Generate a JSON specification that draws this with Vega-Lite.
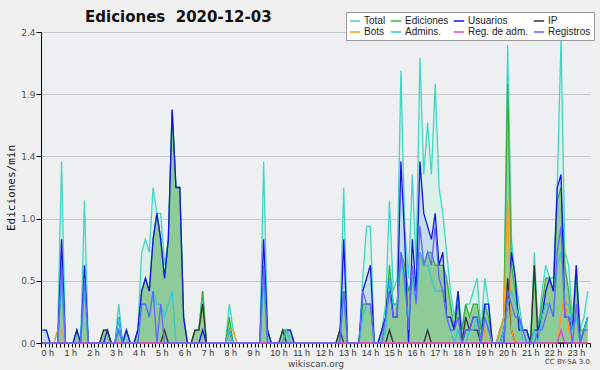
{
  "$schema": "https://vega.github.io/schema/vega-lite/v6.json",
  "width": 549,
  "height": 311,
  "autosize": {"type": "none"},
  "padding": {"left": 41, "top": 32, "right": 10, "bottom": 27},
  "background": "#f0f0f0",
  "title": {"text": "Ediciones \u00a02020-12-03", "anchor": "start", "frame": "group", "dx": 44, "dy": 22, "offset": 9, "font": "DejaVu Sans", "fontSize": 15, "fontWeight": "bold", "color": "#111111"},
  "datasets": {
    "d": [
      {"m":4,"T":0.1,"E":0,"U":0.1,"P":0,"B":0,"A":0,"RA":0,"R":0},
      {"m":14,"T":0.1,"E":0,"U":0.1,"P":0,"B":0,"A":0,"RA":0,"R":0},
      {"m":24,"T":0,"E":0,"U":0,"P":0,"B":0,"A":0,"RA":0,"R":0},
      {"m":34,"T":0,"E":0,"U":0,"P":0,"B":0,"A":0,"RA":0,"R":0},
      {"m":44,"T":0.1,"E":0,"U":0,"P":0,"B":0.1,"A":0,"RA":0,"R":0},
      {"m":54,"T":1.4,"E":0.5,"U":0.8,"P":0,"B":0.1,"A":0.5,"RA":0,"R":0.6},
      {"m":64,"T":0,"E":0,"U":0,"P":0,"B":0,"A":0,"RA":0,"R":0},
      {"m":74,"T":0,"E":0,"U":0,"P":0,"B":0,"A":0,"RA":0,"R":0},
      {"m":84,"T":0,"E":0,"U":0,"P":0,"B":0,"A":0,"RA":0,"R":0},
      {"m":94,"T":0.1,"E":0.1,"U":0.1,"P":0,"B":0,"A":0,"RA":0,"R":0},
      {"m":104,"T":0,"E":0,"U":0,"P":0,"B":0,"A":0,"RA":0,"R":0},
      {"m":114,"T":1.1,"E":0.5,"U":0.6,"P":0,"B":0,"A":0.4,"RA":0,"R":0.5},
      {"m":124,"T":0,"E":0,"U":0,"P":0,"B":0,"A":0,"RA":0,"R":0},
      {"m":134,"T":0,"E":0,"U":0,"P":0,"B":0,"A":0,"RA":0,"R":0},
      {"m":144,"T":0,"E":0,"U":0,"P":0,"B":0,"A":0,"RA":0,"R":0},
      {"m":154,"T":0,"E":0,"U":0,"P":0,"B":0,"A":0,"RA":0,"R":0},
      {"m":164,"T":0.1,"E":0.1,"U":0,"P":0.1,"B":0,"A":0,"RA":0,"R":0},
      {"m":174,"T":0.1,"E":0.1,"U":0.1,"P":0.1,"B":0,"A":0,"RA":0,"R":0},
      {"m":184,"T":0,"E":0,"U":0,"P":0,"B":0,"A":0,"RA":0,"R":0},
      {"m":194,"T":0,"E":0,"U":0,"P":0,"B":0,"A":0,"RA":0,"R":0},
      {"m":204,"T":0.3,"E":0.1,"U":0.2,"P":0,"B":0,"A":0.2,"RA":0,"R":0.1},
      {"m":214,"T":0,"E":0,"U":0,"P":0,"B":0,"A":0,"RA":0,"R":0},
      {"m":224,"T":0.1,"E":0.1,"U":0.1,"P":0,"B":0,"A":0,"RA":0,"R":0},
      {"m":234,"T":0,"E":0,"U":0,"P":0,"B":0,"A":0,"RA":0,"R":0},
      {"m":244,"T":0,"E":0,"U":0,"P":0,"B":0,"A":0,"RA":0,"R":0},
      {"m":254,"T":0.1,"E":0.1,"U":0.1,"P":0,"B":0,"A":0,"RA":0,"R":0},
      {"m":264,"T":0.7,"E":0.4,"U":0.4,"P":0,"B":0,"A":0.3,"RA":0,"R":0.3},
      {"m":274,"T":0.8,"E":0.5,"U":0.5,"P":0,"B":0,"A":0.3,"RA":0,"R":0.3},
      {"m":284,"T":0.7,"E":0.4,"U":0.4,"P":0,"B":0,"A":0.2,"RA":0,"R":0.2},
      {"m":294,"T":1.2,"E":0.8,"U":0.8,"P":0,"B":0,"A":0.4,"RA":0,"R":0.4},
      {"m":304,"T":1.0,"E":1.0,"U":1.0,"P":0,"B":0,"A":0.3,"RA":0,"R":0},
      {"m":314,"T":1.0,"E":0.8,"U":0.8,"P":0,"B":0,"A":0.3,"RA":0,"R":0.3},
      {"m":324,"T":0.6,"E":0.5,"U":0.5,"P":0.1,"B":0,"A":0.2,"RA":0,"R":0},
      {"m":334,"T":0.8,"E":0.8,"U":0.8,"P":0,"B":0,"A":0.3,"RA":0,"R":0},
      {"m":344,"T":1.8,"E":1.8,"U":1.8,"P":0,"B":0,"A":0.4,"RA":0,"R":0},
      {"m":354,"T":1.2,"E":1.2,"U":1.2,"P":0,"B":0,"A":0,"RA":0,"R":0},
      {"m":364,"T":1.2,"E":1.2,"U":1.2,"P":0,"B":0,"A":0,"RA":0,"R":0},
      {"m":374,"T":0.2,"E":0.2,"U":0.2,"P":0,"B":0,"A":0,"RA":0,"R":0},
      {"m":384,"T":0,"E":0,"U":0,"P":0,"B":0,"A":0,"RA":0,"R":0},
      {"m":394,"T":0,"E":0,"U":0,"P":0,"B":0,"A":0,"RA":0,"R":0},
      {"m":404,"T":0.1,"E":0.1,"U":0,"P":0.1,"B":0,"A":0,"RA":0,"R":0},
      {"m":414,"T":0.1,"E":0.1,"U":0,"P":0.1,"B":0,"A":0,"RA":0,"R":0},
      {"m":424,"T":0.4,"E":0.4,"U":0.1,"P":0.3,"B":0,"A":0,"RA":0,"R":0},
      {"m":434,"T":0,"E":0,"U":0,"P":0,"B":0,"A":0,"RA":0,"R":0},
      {"m":444,"T":0,"E":0,"U":0,"P":0,"B":0,"A":0,"RA":0,"R":0},
      {"m":454,"T":0,"E":0,"U":0,"P":0,"B":0,"A":0,"RA":0,"R":0},
      {"m":464,"T":0,"E":0,"U":0,"P":0,"B":0,"A":0,"RA":0,"R":0},
      {"m":474,"T":0,"E":0,"U":0,"P":0,"B":0,"A":0,"RA":0,"R":0},
      {"m":484,"T":0,"E":0,"U":0,"P":0,"B":0,"A":0,"RA":0,"R":0},
      {"m":494,"T":0.3,"E":0.2,"U":0.1,"P":0,"B":0.1,"A":0.1,"RA":0,"R":0},
      {"m":504,"T":0.1,"E":0,"U":0,"P":0,"B":0.1,"A":0,"RA":0,"R":0},
      {"m":514,"T":0,"E":0,"U":0,"P":0,"B":0,"A":0,"RA":0,"R":0},
      {"m":524,"T":0,"E":0,"U":0,"P":0,"B":0,"A":0,"RA":0,"R":0},
      {"m":534,"T":0,"E":0,"U":0,"P":0,"B":0,"A":0,"RA":0,"R":0},
      {"m":544,"T":0,"E":0,"U":0,"P":0,"B":0,"A":0,"RA":0,"R":0},
      {"m":554,"T":0,"E":0,"U":0,"P":0,"B":0,"A":0,"RA":0,"R":0},
      {"m":564,"T":0,"E":0,"U":0,"P":0,"B":0,"A":0,"RA":0,"R":0},
      {"m":574,"T":0,"E":0,"U":0,"P":0,"B":0,"A":0,"RA":0,"R":0},
      {"m":584,"T":1.4,"E":0.5,"U":0.8,"P":0,"B":0,"A":0.5,"RA":0,"R":0.6},
      {"m":594,"T":0.1,"E":0.1,"U":0.1,"P":0,"B":0,"A":0,"RA":0,"R":0},
      {"m":604,"T":0,"E":0,"U":0,"P":0,"B":0,"A":0,"RA":0,"R":0},
      {"m":614,"T":0,"E":0,"U":0,"P":0,"B":0,"A":0,"RA":0,"R":0},
      {"m":624,"T":0,"E":0,"U":0,"P":0,"B":0,"A":0,"RA":0,"R":0},
      {"m":634,"T":0.1,"E":0.1,"U":0,"P":0.1,"B":0,"A":0,"RA":0,"R":0},
      {"m":644,"T":0.1,"E":0.1,"U":0.1,"P":0,"B":0,"A":0.1,"RA":0,"R":0},
      {"m":654,"T":0.1,"E":0.1,"U":0.1,"P":0,"B":0,"A":0,"RA":0,"R":0},
      {"m":664,"T":0,"E":0,"U":0,"P":0,"B":0,"A":0,"RA":0,"R":0},
      {"m":674,"T":0,"E":0,"U":0,"P":0,"B":0,"A":0,"RA":0,"R":0},
      {"m":684,"T":0,"E":0,"U":0,"P":0,"B":0,"A":0,"RA":0,"R":0},
      {"m":694,"T":0,"E":0,"U":0,"P":0,"B":0,"A":0,"RA":0,"R":0},
      {"m":704,"T":0,"E":0,"U":0,"P":0,"B":0,"A":0,"RA":0,"R":0},
      {"m":714,"T":0,"E":0,"U":0,"P":0,"B":0,"A":0,"RA":0,"R":0},
      {"m":724,"T":0,"E":0,"U":0,"P":0,"B":0,"A":0,"RA":0,"R":0},
      {"m":734,"T":0,"E":0,"U":0,"P":0,"B":0,"A":0,"RA":0,"R":0},
      {"m":744,"T":0,"E":0,"U":0,"P":0,"B":0,"A":0,"RA":0,"R":0},
      {"m":754,"T":0,"E":0,"U":0,"P":0,"B":0,"A":0,"RA":0,"R":0},
      {"m":764,"T":0,"E":0,"U":0,"P":0,"B":0,"A":0,"RA":0,"R":0},
      {"m":774,"T":0,"E":0,"U":0,"P":0,"B":0,"A":0,"RA":0,"R":0},
      {"m":784,"T":0.1,"E":0.1,"U":0,"P":0.1,"B":0,"A":0,"RA":0,"R":0},
      {"m":794,"T":1.2,"E":0.4,"U":0.8,"P":0,"B":0,"A":0.4,"RA":0,"R":0.4},
      {"m":804,"T":0,"E":0,"U":0,"P":0,"B":0,"A":0,"RA":0,"R":0},
      {"m":814,"T":0,"E":0,"U":0,"P":0,"B":0,"A":0,"RA":0,"R":0},
      {"m":824,"T":0,"E":0,"U":0,"P":0,"B":0,"A":0,"RA":0,"R":0},
      {"m":834,"T":0,"E":0,"U":0,"P":0,"B":0,"A":0,"RA":0,"R":0},
      {"m":844,"T":0.5,"E":0.3,"U":0.4,"P":0,"B":0,"A":0.2,"RA":0,"R":0.4},
      {"m":854,"T":0.9,"E":0.3,"U":0.5,"P":0,"B":0,"A":0.3,"RA":0,"R":0.3},
      {"m":864,"T":0.9,"E":0.3,"U":0.6,"P":0,"B":0,"A":0.3,"RA":0,"R":0.3},
      {"m":874,"T":0,"E":0,"U":0,"P":0,"B":0,"A":0,"RA":0,"R":0},
      {"m":884,"T":0,"E":0,"U":0,"P":0,"B":0,"A":0,"RA":0,"R":0},
      {"m":894,"T":0.1,"E":0.1,"U":0.1,"P":0,"B":0,"A":0,"RA":0,"R":0},
      {"m":904,"T":0.3,"E":0.2,"U":0.2,"P":0,"B":0,"A":0.1,"RA":0,"R":0.2},
      {"m":914,"T":1.1,"E":0.6,"U":0.5,"P":0.1,"B":0,"A":0.5,"RA":0,"R":0.4},
      {"m":924,"T":0.4,"E":0.3,"U":0.2,"P":0,"B":0,"A":0.3,"RA":0,"R":0.2},
      {"m":934,"T":0.5,"E":0.3,"U":0.2,"P":0,"B":0,"A":0.3,"RA":0,"R":0.2},
      {"m":944,"T":2.1,"E":0.7,"U":1.4,"P":0,"B":0,"A":0.7,"RA":0,"R":0.7},
      {"m":954,"T":0.9,"E":0.6,"U":0.8,"P":0,"B":0,"A":0.4,"RA":0,"R":0.5},
      {"m":964,"T":0.5,"E":0.4,"U":0,"P":0,"B":0,"A":0.2,"RA":0,"R":0.1},
      {"m":974,"T":1.3,"E":0.5,"U":0.8,"P":0,"B":0,"A":0.5,"RA":0,"R":0.6},
      {"m":984,"T":0.6,"E":0.4,"U":0.4,"P":0,"B":0,"A":0.3,"RA":0,"R":0.3},
      {"m":994,"T":2.2,"E":0.7,"U":1.4,"P":0,"B":0,"A":0.7,"RA":0,"R":0.9},
      {"m":1004,"T":1.3,"E":0.6,"U":1.0,"P":0,"B":0,"A":0.6,"RA":0,"R":0.6},
      {"m":1014,"T":1.7,"E":0.7,"U":0.9,"P":0.1,"B":0,"A":0.6,"RA":0,"R":0.7},
      {"m":1024,"T":1.3,"E":0.7,"U":0.8,"P":0,"B":0,"A":0.5,"RA":0,"R":0.6},
      {"m":1034,"T":2.0,"E":0.6,"U":1.0,"P":0,"B":0,"A":0.4,"RA":0,"R":0.9},
      {"m":1044,"T":1.2,"E":0.6,"U":0.6,"P":0,"B":0,"A":0.4,"RA":0,"R":0.5},
      {"m":1054,"T":1.0,"E":0.6,"U":0.7,"P":0,"B":0,"A":0.4,"RA":0,"R":0.4},
      {"m":1064,"T":0.7,"E":0.5,"U":0.2,"P":0,"B":0,"A":0.2,"RA":0,"R":0.2},
      {"m":1074,"T":0.4,"E":0.3,"U":0.2,"P":0,"B":0,"A":0.1,"RA":0,"R":0.1},
      {"m":1084,"T":0.2,"E":0.1,"U":0.1,"P":0,"B":0,"A":0,"RA":0,"R":0.1},
      {"m":1094,"T":0.4,"E":0.3,"U":0.4,"P":0,"B":0,"A":0.1,"RA":0,"R":0.2},
      {"m":1104,"T":0.1,"E":0.1,"U":0,"P":0,"B":0,"A":0,"RA":0,"R":0},
      {"m":1114,"T":0.3,"E":0.3,"U":0.1,"P":0.2,"B":0,"A":0,"RA":0,"R":0.1},
      {"m":1124,"T":0.3,"E":0.2,"U":0.1,"P":0.1,"B":0,"A":0.1,"RA":0,"R":0.1},
      {"m":1134,"T":0.4,"E":0.3,"U":0.2,"P":0.1,"B":0,"A":0.1,"RA":0,"R":0.2},
      {"m":1144,"T":0.5,"E":0.3,"U":0.2,"P":0.1,"B":0,"A":0.2,"RA":0,"R":0.2},
      {"m":1154,"T":0.1,"E":0.1,"U":0,"P":0,"B":0,"A":0,"RA":0,"R":0},
      {"m":1164,"T":0.5,"E":0.3,"U":0.3,"P":0,"B":0.1,"A":0.2,"RA":0,"R":0.2},
      {"m":1174,"T":0.3,"E":0.2,"U":0.3,"P":0,"B":0,"A":0.1,"RA":0,"R":0.1},
      {"m":1184,"T":0,"E":0,"U":0,"P":0,"B":0,"A":0,"RA":0,"R":0},
      {"m":1194,"T":0,"E":0,"U":0,"P":0,"B":0,"A":0,"RA":0,"R":0},
      {"m":1204,"T":0.1,"E":0.1,"U":0,"P":0,"B":0.1,"A":0,"RA":0,"R":0},
      {"m":1214,"T":0.2,"E":0.2,"U":0.1,"P":0,"B":0.2,"A":0.1,"RA":0,"R":0},
      {"m":1224,"T":2.3,"E":2.0,"U":0.3,"P":0.5,"B":1.1,"A":0.3,"RA":0,"R":0.4},
      {"m":1234,"T":0.8,"E":0.6,"U":0.7,"P":0.1,"B":0.1,"A":0.4,"RA":0,"R":0.3},
      {"m":1244,"T":0.5,"E":0.4,"U":0.5,"P":0,"B":0,"A":0.3,"RA":0,"R":0.2},
      {"m":1254,"T":0.3,"E":0.2,"U":0.1,"P":0,"B":0,"A":0.2,"RA":0,"R":0.2},
      {"m":1264,"T":0.1,"E":0.1,"U":0.1,"P":0,"B":0,"A":0,"RA":0,"R":0.1},
      {"m":1274,"T":0.1,"E":0.1,"U":0.1,"P":0,"B":0,"A":0,"RA":0,"R":0},
      {"m":1284,"T":0,"E":0,"U":0,"P":0,"B":0,"A":0,"RA":0,"R":0},
      {"m":1294,"T":0.7,"E":0.6,"U":0.1,"P":0.6,"B":0,"A":0.1,"RA":0,"R":0},
      {"m":1304,"T":0.1,"E":0.1,"U":0.1,"P":0,"B":0,"A":0,"RA":0,"R":0.1},
      {"m":1314,"T":0.4,"E":0.3,"U":0.2,"P":0,"B":0,"A":0.2,"RA":0,"R":0.1},
      {"m":1324,"T":0.6,"E":0.5,"U":0.4,"P":0,"B":0,"A":0.3,"RA":0,"R":0.2},
      {"m":1334,"T":0.5,"E":0.5,"U":0.5,"P":0,"B":0,"A":0.3,"RA":0,"R":0.3},
      {"m":1344,"T":0.5,"E":0.4,"U":0.4,"P":0,"B":0,"A":0.2,"RA":0,"R":0.2},
      {"m":1354,"T":1.2,"E":1.1,"U":1.2,"P":0,"B":0,"A":0.6,"RA":0,"R":0.7},
      {"m":1364,"T":2.35,"E":1.2,"U":1.3,"P":0,"B":0.2,"A":0.7,"RA":0.1,"R":0.9},
      {"m":1374,"T":0.7,"E":0.6,"U":0.2,"P":0,"B":0.4,"A":0.3,"RA":0,"R":0.2},
      {"m":1384,"T":0.6,"E":0.4,"U":0.2,"P":0,"B":0.1,"A":0.3,"RA":0,"R":0.2},
      {"m":1394,"T":0.2,"E":0.1,"U":0.1,"P":0,"B":0,"A":0.1,"RA":0,"R":0},
      {"m":1404,"T":0.6,"E":0.5,"U":0.6,"P":0,"B":0,"A":0.2,"RA":0,"R":0.3},
      {"m":1414,"T":0.1,"E":0.1,"U":0,"P":0,"B":0,"A":0,"RA":0,"R":0},
      {"m":1424,"T":0.2,"E":0.1,"U":0.1,"P":0,"B":0,"A":0.1,"RA":0,"R":0.1},
      {"m":1434,"T":0.4,"E":0.2,"U":0.2,"P":0,"B":0,"A":0.2,"RA":0,"R":0.1}
    ],
    "note": [{"txt": "CC BY-SA 3.0", "m": 1440, "y": -0.145}]
  },
  "data": {"name": "d"},
  "encoding": {
    "x": {
      "field": "m", "type": "quantitative",
      "scale": {"domain": [0, 1440], "nice": false, "zero": false},
      "axis": {
        "tickCount": 144,
        "labelExpr": "datum.value % 60 == 0 && datum.value < 1440 ? (datum.value / 60) + ' h' : ''",
        "labelAlign": "left", "labelOverlap": false, "labelFlush": false,
        "labelFont": "Liberation Sans", "labelFontSize": 9, "labelColor": "#333333", "labelPadding": 1,
        "tickSize": 4, "tickColor": "#000000", "domainColor": "#000000", "grid": false,
        "title": "wikiscan.org", "titleFont": "DejaVu Sans", "titleFontSize": 9, "titleFontWeight": "normal",
        "titleColor": "#444444", "titlePadding": 2
      }
    }
  },
  "layer": [
    {
      "mark": {"type": "area", "color": "#daf0e9", "interpolate": "linear"},
      "encoding": {
        "y": {
          "field": "T", "type": "quantitative",
          "scale": {"domain": [0, 2.4], "nice": false, "zero": true},
          "axis": {
            "values": [0, 0.12, 0.24, 0.36, 0.48, 0.6, 0.72, 0.84, 0.96, 1.08, 1.2, 1.32, 1.44, 1.56, 1.68, 1.8, 1.92, 2.04, 2.16, 2.28, 2.4],
            "labelExpr": "round(datum.value / 0.12) % 4 == 0 ? format(datum.value, '.1f') : ''",
            "labelFlush": false, "labelOverlap": false,
            "grid": true, "gridColor": "#c8c8c8",
            "gridOpacity": {"condition": {"test": "round(datum.value / 0.12) % 4 == 0 && datum.value > 0", "value": 1}, "value": 0},
            "tickSize": {"condition": {"test": "round(datum.value / 0.12) % 4 == 0", "value": 5}, "value": 3},
            "tickColor": "#000000", "domainColor": "#000000",
            "labelFont": "DejaVu Sans", "labelFontSize": 9, "labelColor": "#555555", "labelPadding": 1,
            "title": "Ediciones/min", "titleFont": "DejaVu Sans Mono", "titleFontSize": 11, "titleFontWeight": "normal",
            "titleColor": "#111111", "titlePadding": 4
          }
        }
      }
    },
    {
      "mark": {"type": "area", "color": "#a0c0f0", "opacity": 0.4, "interpolate": "linear"},
      "encoding": {"y": {"field": "U", "type": "quantitative", "axis": {"title": "Ediciones/min"}}}
    },
    {
      "mark": {"type": "area", "color": "#7cc47c", "opacity": 0.75, "interpolate": "linear"},
      "encoding": {"y": {"field": "E", "type": "quantitative", "axis": {"title": "Ediciones/min"}}}
    },
    {
      "transform": [{"fold": ["T", "E", "U", "P", "B", "A", "RA", "R"], "as": ["s", "v"]}],
      "mark": {"type": "line", "strokeWidth": 1.3, "interpolate": "linear"},
      "encoding": {
        "y": {"field": "v", "type": "quantitative", "axis": {"title": "Ediciones/min"}},
        "color": {
          "field": "s", "type": "nominal",
          "scale": {
            "domain": ["T", "E", "U", "P", "B", "A", "RA", "R"],
            "range": ["#3fd6c6", "#3cae3c", "#1414e6", "#333333", "#ff9a1a", "#2ec8dc", "#dd44dd", "#6464ff"]
          },
          "legend": {
            "title": null,
            "direction": "horizontal",
            "columns": 4,
            "labelExpr": "datum.label == 'T' ? 'Total' : datum.label == 'E' ? 'Ediciones' : datum.label == 'U' ? 'Usuarios' : datum.label == 'P' ? 'IP' : datum.label == 'B' ? 'Bots' : datum.label == 'A' ? 'Admins.' : datum.label == 'RA' ? 'Reg. de adm.' : 'Registros'"
          }
        }
      }
    },
    {
      "data": {"name": "note"},
      "mark": {"type": "text", "align": "right", "baseline": "middle", "font": "DejaVu Sans", "fontSize": 7, "color": "#444444"},
      "encoding": {
        "x": {"field": "m", "type": "quantitative"},
        "y": {"field": "y", "type": "quantitative", "axis": {"title": "Ediciones/min"}},
        "text": {"field": "txt"}
      }
    }
  ],
  "config": {
    "view": {"stroke": null, "fill": "#eeeff1"},
    "legend": {
      "orient": "none", "legendX": 305, "legendY": -20,
      "symbolType": "stroke", "symbolSize": 110, "symbolStrokeWidth": 1.5,
      "labelFont": "Liberation Sans", "labelFontSize": 10, "labelColor": "#222222",
      "fillColor": "#ffffff", "strokeColor": "#999999", "padding": 3,
      "rowPadding": 0, "columnPadding": 1, "labelOffset": 3, "gridAlign": "each"
    }
  }
}
